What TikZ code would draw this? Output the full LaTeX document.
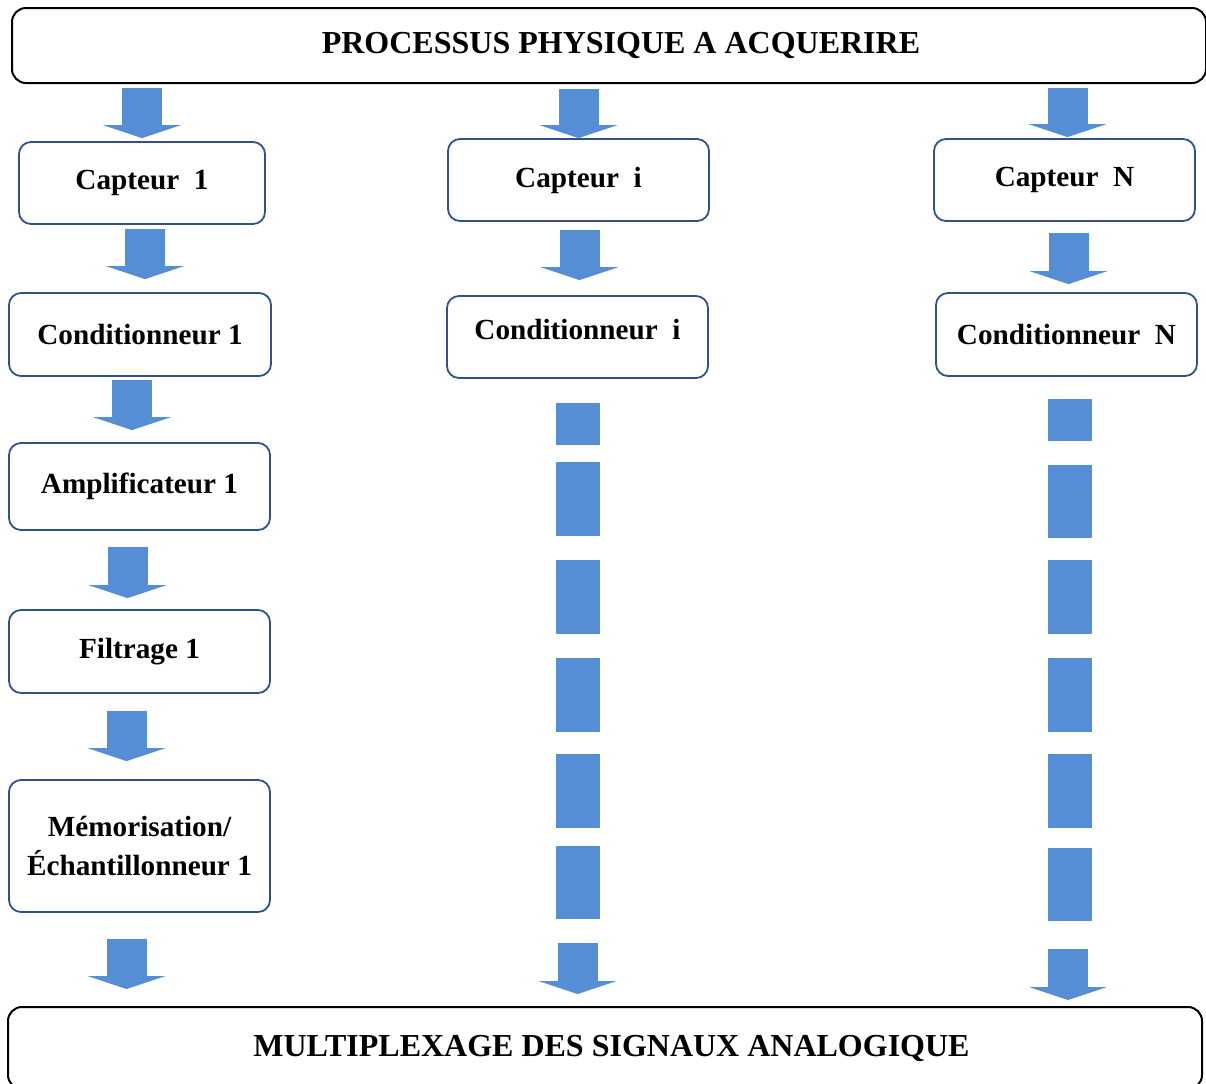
\documentclass[tikz,border=0pt]{standalone}
\usepackage{fontspec}
\setmainfont{Liberation Serif}
\usetikzlibrary{arrows.meta}
\definecolor{flowblue}{RGB}{85,142,213}
\definecolor{boxblue}{RGB}{47,82,143}

\begin{document}
\begin{tikzpicture}[x=0.5pt,y=-0.5pt]

    \tikzset{
      stage/.style={
        draw=boxblue,
        line width=0.9pt,
        rounded corners=6pt,
        align=center,
        inner sep=0pt,
        font=\fontsize{14.6}{19.5}\selectfont\bfseries,
      },
      frame/.style={
        draw=black,
        line width=1pt,
        rounded corners=7pt,
        inner sep=0pt,
        font=\fontsize{16}{19.5}\selectfont\bfseries,
      },
      flow/.style={
        draw=flowblue,
        line width=20pt,
        -{Triangle[width=39pt,length=6.5pt,line width=0pt]},
      },
      dashbar/.style={
        draw=flowblue,
        line width=22pt,
      },
    }

	\useasboundingbox (0,0) rectangle (1206,1083);

	% top and bottom frames
	\node[frame, minimum width=597pt, minimum height=37.5pt] (proc) at (609,45.5) {\hspace*{12pt}PROCESSUS PHYSIQUE A ACQUERIRE};
	\node[frame, minimum width=597pt, minimum height=41pt] (mux) at (605,1048) {\hspace*{6.5pt}MULTIPLEXAGE DES SIGNAUX ANALOGIQUE};

	% chain 1
	\node[stage, minimum width=123pt, minimum height=41pt] (cap1) at (142,183) {Capteur~ 1};
	\node[stage, minimum width=131pt, minimum height=41.5pt] (cond1) at (140,334.5) {Conditionneur 1};
	\node[stage, minimum width=130.5pt, minimum height=43.5pt] (ampl1) at (139.5,486.5) {Amplificateur 1};
	\node[stage, minimum width=130.5pt, minimum height=41.5pt] (filt1) at (139.5,651.5) {Filtrage 1};
	\node[stage, minimum width=130.5pt, minimum height=66pt] (mem1) at (139.5,846) {Mémorisation/\\Échantillonneur 1};

	% chain i
	\node[stage, minimum width=130.5pt, minimum height=41pt] (capi) at (578.5,180) {Capteur~ i};
	\node[stage, minimum width=130.5pt, minimum height=41pt, text depth=8pt] (condi) at (577.5,337) {Conditionneur~ i};

	% chain N
	\node[stage, minimum width=130.5pt, minimum height=41pt] (capN) at (1064.5,180) {Capteur~ N};
	\node[stage, minimum width=130.5pt, minimum height=41.5pt] (condN) at (1066.5,334.5) {Conditionneur~ N};

	\coordinate (midend) at (577.5,943);
	\coordinate (rightend) at (1068,949);

	% arrows chain 1
	\draw[flow, shorten <=2pt, shorten >=1.5pt] (proc.south -| cap1.north) -- (cap1.north);
	\draw[flow, shorten <=2pt, shorten >=6.5pt] ([xshift=1.5pt]cap1.south) -- ([xshift=1.5pt]cap1.south |- cond1.north);
	\draw[flow, shorten <=1.5pt, shorten >=6pt] ([xshift=-4pt]cond1.south) -- ([xshift=-4pt]cond1.south |- ampl1.north);
	\draw[flow, shorten <=8pt, shorten >=5.5pt] ([xshift=-6pt]ampl1.south) -- ([xshift=-6pt]ampl1.south |- filt1.north);
	\draw[flow, shorten <=8.5pt, shorten >=9pt] ([xshift=-6.5pt]filt1.south) -- ([xshift=-6.5pt]filt1.south |- mem1.north);
	\draw[flow, shorten <=13pt, shorten >=8.5pt] ([xshift=-6.5pt]mem1.south) -- ([xshift=-6.5pt]mem1.south |- mux.north);

	% arrows chain i
	\draw[flow, shorten <=2.5pt] (proc.south -| capi.north) -- (capi.north);
	\draw[flow, shorten <=4pt, shorten >=7.5pt] ([xshift=0.5pt]capi.south) -- ([xshift=0.5pt]capi.south |- condi.north);
	\draw[dashbar, dash pattern=on 21pt off 8.5pt on 37pt off 12pt on 37pt off 12pt on 37pt off 11pt on 37pt off 9pt on 37pt, shorten <=12pt] (condi.south) -- ([yshift=12pt]midend);
	\draw[flow, shorten >=6pt] (midend) -- (midend |- mux.north);

	% arrows chain N
	\draw[flow, shorten <=2pt, shorten >=0.5pt] ([xshift=1.5pt]proc.south -| capN.north) -- ([xshift=1.5pt]capN.north);
	\draw[flow, shorten <=5.5pt, shorten >=4pt] ([xshift=2pt]capN.south) -- ([xshift=2pt]capN.south |- condN.north);
	\draw[dashbar, dash pattern=on 21pt off 12pt on 36.5pt off 11pt on 37pt off 12pt on 37pt off 11pt on 37pt off 10pt on 37pt, shorten <=11pt] ([xshift=1.75pt]condN.south) -- ([xshift=1pt,yshift=14pt]rightend);
	\draw[flow, shorten >=3pt] (rightend) -- (rightend |- mux.north);

\end{tikzpicture}
\end{document}
